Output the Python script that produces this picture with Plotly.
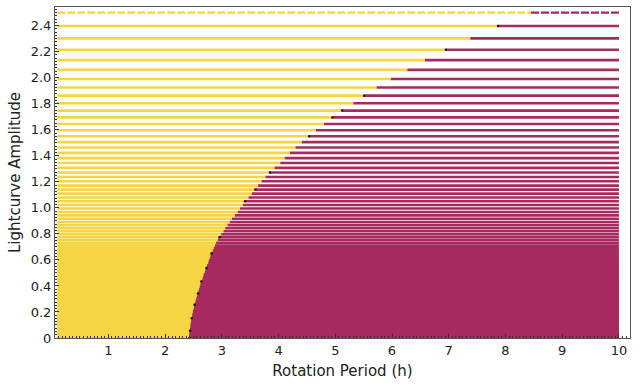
import plotly.graph_objects as go

# Amplitude levels (discrete rows), top to bottom
amplitudes = [2.500, 2.397, 2.302, 2.215, 2.135, 2.060, 1.990, 1.924, 1.862, 1.803,
              1.747, 1.695, 1.644, 1.596, 1.550, 1.505, 1.463, 1.422, 1.382, 1.344,
              1.307, 1.272, 1.237, 1.204, 1.171, 1.140, 1.109, 1.080, 1.051, 1.022,
              0.995, 0.968, 0.942, 0.916, 0.891, 0.867, 0.843, 0.820, 0.797, 0.775,
              0.753, 0.731, 0.710, 0.689, 0.669, 0.649, 0.630, 0.610, 0.591, 0.573,
              0.555, 0.537, 0.519, 0.502, 0.485, 0.468, 0.451, 0.435, 0.419, 0.403,
              0.387, 0.372, 0.357, 0.342, 0.327, 0.312, 0.298, 0.284, 0.270, 0.256,
              0.242, 0.229, 0.216, 0.202, 0.189, 0.177, 0.164, 0.151, 0.139, 0.127,
              0.114, 0.102, 0.091, 0.079, 0.067, 0.056, 0.044, 0.033, 0.022, 0.011, 0.000]

# Period where each row changes from yellow to magenta (h)
boundary_period = [8.45, 7.87, 7.38, 6.95, 6.58, 6.27, 5.98, 5.73, 5.51, 5.32,
                   5.12, 4.95, 4.80, 4.66, 4.54, 4.41, 4.30, 4.20, 4.11, 4.03,
                   3.93, 3.85, 3.77, 3.70, 3.64, 3.59, 3.53, 3.47, 3.41, 3.37,
                   3.32, 3.28, 3.23, 3.18, 3.14, 3.10, 3.06, 3.03, 2.99, 2.96,
                   2.93, 2.90, 2.88, 2.86, 2.84, 2.82, 2.80, 2.79, 2.77, 2.76,
                   2.74, 2.73, 2.71, 2.70, 2.68, 2.67, 2.66, 2.64, 2.63, 2.62,
                   2.61, 2.60, 2.59, 2.58, 2.57, 2.56, 2.55, 2.54, 2.53, 2.52,
                   2.51, 2.51, 2.50, 2.49, 2.49, 2.48, 2.48, 2.47, 2.47, 2.46,
                   2.46, 2.45, 2.45, 2.45, 2.44, 2.44, 2.44, 2.43, 2.43, 2.43, 2.43]

period_min = 0.1
period_max = 10.0
dense_below = 0.70  # rows below this amplitude merge into a solid block

# Black points near the boundary
black_period = [7.87, 6.95, 5.51, 5.12, 4.95, 4.54, 3.85, 3.59, 3.41,
                2.96, 2.82, 2.73, 2.64, 2.58, 2.52, 2.47, 2.44, 2.43]
black_amp = [2.397, 2.215, 1.862, 1.747, 1.695, 1.550, 1.272, 1.140, 1.051,
             0.775, 0.649, 0.537, 0.435, 0.342, 0.256, 0.151, 0.056, 0.000]

x_ticks = [1, 2, 3, 4, 5, 6, 7, 8, 9, 10]
y_ticks = [0, 0.2, 0.4, 0.6, 0.8, 1.0, 1.2, 1.4, 1.6, 1.8, 2.0, 2.2, 2.4]
y_ticktext = ["0", "0.2", "0.4", "0.6", "0.8", "1.0", "1.2", "1.4", "1.6", "1.8", "2.0", "2.2", "2.4"]

YELLOW = "#F5D544"
MAGENTA = "#A72A5E"


def segments(rows):
    yx, yy, mx, my = [], [], [], []
    for a, p in rows:
        yx += [period_min, p, None]
        yy += [a, a, None]
        mx += [p, period_max, None]
        my += [a, a, None]
    return yx, yy, mx, my


rows = list(zip(amplitudes[1:], boundary_period[1:]))
upper = [r for r in rows if r[0] >= dense_below]
lower = [r for r in rows if r[0] < dense_below]

fig = go.Figure()
for group, width in ((lower, 3.4), (upper, 2.6)):
    yx, yy, mx, my = segments(group)
    fig.add_trace(go.Scatter(x=yx, y=yy, mode="lines", line=dict(color=YELLOW, width=width),
                             hoverinfo="skip", showlegend=False, cliponaxis=False))
    fig.add_trace(go.Scatter(x=mx, y=my, mode="lines", line=dict(color=MAGENTA, width=width),
                             hoverinfo="skip", showlegend=False, cliponaxis=False))
# top row is sparser
fig.add_trace(go.Scatter(x=[period_min, boundary_period[0]], y=[amplitudes[0]] * 2, mode="lines",
                         line=dict(color=YELLOW, width=2.4, dash="8px,2px"),
                         hoverinfo="skip", showlegend=False))
fig.add_trace(go.Scatter(x=[boundary_period[0], period_max], y=[amplitudes[0]] * 2, mode="lines",
                         line=dict(color=MAGENTA, width=2.4, dash="8px,2px"),
                         hoverinfo="skip", showlegend=False))
fig.add_trace(go.Scatter(x=black_period, y=black_amp, mode="markers",
                         marker=dict(color="#111111", size=2.5, line=dict(width=0)),
                         hoverinfo="skip", showlegend=False, cliponaxis=False))

font = dict(family="DejaVu Sans", size=13, color="#222222")
fig.update_layout(
    width=640, height=385,
    margin=dict(l=55, r=10, t=7, b=47, autoexpand=False),
    plot_bgcolor="white", paper_bgcolor="white",
    font=font,
    xaxis=dict(range=[0.06, 10.195], tickvals=x_ticks, showgrid=False, zeroline=False,
               automargin=False,
               showline=True, linecolor="#555555", linewidth=1, mirror=True,
               ticks="inside", ticklen=4, tickcolor="#333333",
               minor=dict(ticks="inside", ticklen=2, dtick=0.0625, tickcolor="#333333"),
               title=dict(text="Rotation Period (h)", font=dict(size=15), standoff=8)),
    yaxis=dict(range=[0, 2.543], tickvals=y_ticks, ticktext=y_ticktext, showgrid=False,
               automargin=False,
               zeroline=False, showline=True, linecolor="#555555", linewidth=1, mirror=True,
               ticks="inside", ticklen=4, tickcolor="#333333",
               minor=dict(ticks="inside", ticklen=2, dtick=0.025, tickcolor="#333333"),
               title=dict(text="Lightcurve Amplitude", font=dict(size=15), standoff=6)),
)

fig.write_html("out.html", config={"displayModeBar": False},
               post_script="document.body.style.margin='0';document.body.style.padding='0';")
